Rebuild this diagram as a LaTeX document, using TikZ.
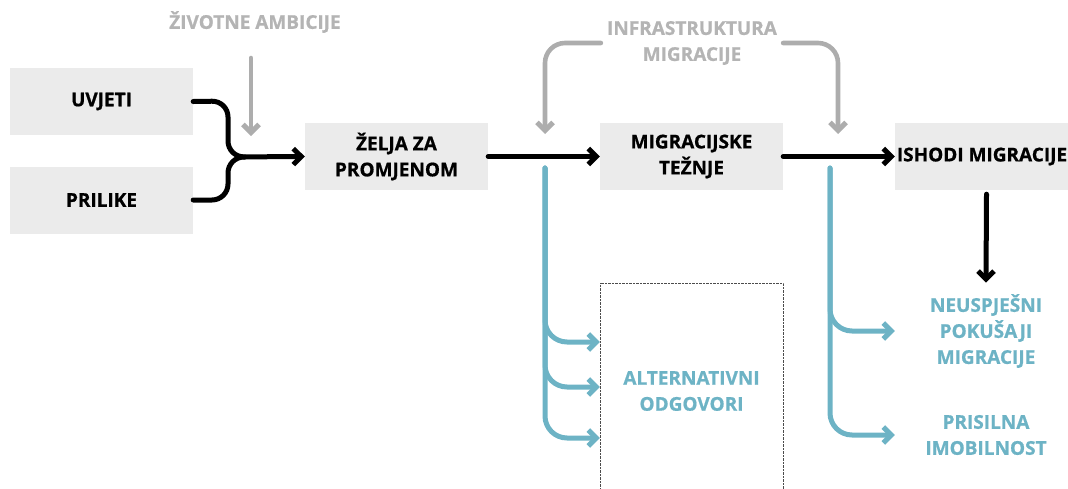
\documentclass[tikz,border=0pt]{standalone}
\usepackage{fontspec}
\setmainfont{Open Sans}[BoldFeatures={FakeBold=0.8}]
\usetikzlibrary{arrows.meta}
\definecolor{boxgray}{HTML}{EBEBEB}
\definecolor{softgray}{HTML}{ADADAD}
\definecolor{labelgray}{HTML}{B4B4B4}
\definecolor{teal}{HTML}{6DB3C5}
\begin{document}
\begin{tikzpicture}[x=1pt, y=-1pt,
    lbl/.style={font=\fontsize{19}{26}\selectfont\bfseries, align=center},
    box/.style={lbl, fill=boxgray, minimum width=183pt, minimum height=67pt, inner sep=0pt},
    blk/.style={line width=5pt, line cap=round, line join=round, -{Straight Barb[length=8pt, width=16pt, line width=5pt]}},
    gry/.style={blk, softgray, line width=4.6pt},
    tl/.style={blk, teal, line width=5pt}]
    \clip (0,0) rectangle (1068,488);

    % Kutije
    \node[box] (uvjeti) at (101.5,101.5) {UVJETI};
    \node[box] (prilike) at (101.5,200) {PRILIKE};
    \node[box] (zelja) at (396.5,156.5) {ŽELJA ZA\\PROMJENOM};
    \node[box] (teznje) at (691.5,156.5) {MIGRACIJSKE\\TEŽNJE};
    \node[box, minimum width=183pt] (ishodi) at (986.5,156.5) {};
    \node[lbl] (ishoditxt) at (982,156.5) {ISHODI MIGRACIJE};
    \node[lbl, draw=black!70, densely dotted, thin, minimum width=183pt, minimum height=216pt, text=teal] (alt) at (691.5,391) {ALTERNATIVNI\\ODGOVORI};

    % Oznake
    \node[lbl, labelgray] (ambicije) at (255,22) {ŽIVOTNE AMBICIJE};
    \node[lbl, labelgray, inner sep=6pt] (infra) at (692,43) {INFRASTRUKTURA\\MIGRACIJE};
    \node[lbl, teal] (neusp) at (986,331) {NEUSPJEŠNI\\POKUŠAJI\\MIGRACIJE};
    \node[lbl, teal] (prisil) at (986,435) {PRISILNA\\IMOBILNOST};

    \coordinate (ambtop) at (251,58);
    \coordinate (ambend) at (251,136);
    \coordinate (merge) at (245,157);
    \coordinate (lefttop) at (545,168);
    \coordinate (righttop) at (830,168);

    % Glavni tok
    \draw[blk, rounded corners=16pt] (uvjeti.east) -- (228,101) -- (228,157) -- (zelja.west);
    \draw[line width=5pt, line cap=round, rounded corners=16pt] (prilike.east) -- (228,200) -- (228,157) -- (merge);
    \draw[blk] (zelja.east) -- (teznje.west);
    \draw[blk] (teznje.east) -- (ishodi.west);
    \draw[blk] (ishodi.south) ++(0,4) -- ([yshift=8pt]neusp.north);

    % Utjecaji
    \draw[gry] (ambtop) -- (ambend);
    \draw[gry, rounded corners=20pt] (infra.west) -| (545,134);
    \draw[gry, rounded corners=20pt] (infra.east) -| (838,134);

    % Alternativni ishodi
    \foreach \yy in {342,387,438}
        \draw[tl, rounded corners=22pt] (lefttop) |- (alt.west |- 0,\yy);
    \draw[tl, rounded corners=22pt] (righttop) |- (ishodi.west |- neusp);
    \draw[tl, rounded corners=22pt] (righttop) |- (ishodi.west |- prisil);
\end{tikzpicture}
\end{document}
